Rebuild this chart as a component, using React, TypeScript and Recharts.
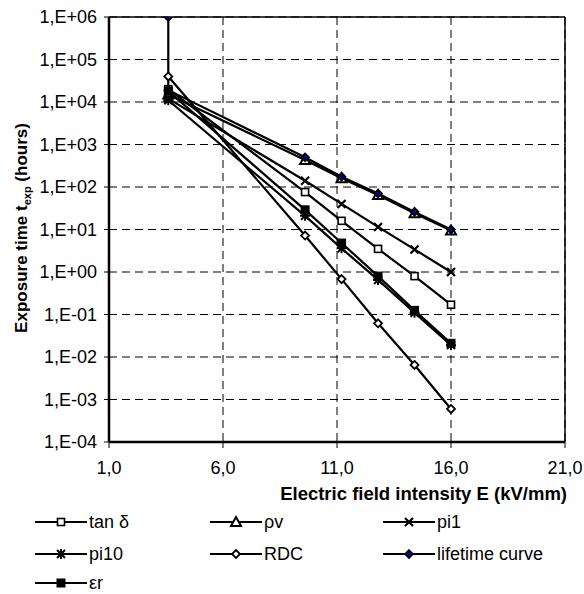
import React from "react";
import {
  LineChart,
  Line,
  XAxis,
  YAxis,
  CartesianGrid,
  Legend,
  ReferenceLine,
} from "recharts";

const FONT = "'Liberation Sans', Arial, sans-serif";

// field strengths (kV/mm) where samples were aged
const fieldE = [3.6, 9.6, 11.2, 12.8, 14.4, 16.0];
const tanDelta = [2.0e4, 76, 16, 3.5, 0.8, 0.17];
const rhoV = [1.5e4, 430, 160, 65, 24, 9.5];
const pi1 = [1.2e4, 140, 40, 11.5, 3.4, 1.0];
const pi10 = [1.1e4, 21, 3.6, 0.65, 0.11, 0.019];
const rdc = [4.0e4, 7.2, 0.68, 0.062, 0.0065, 0.0006];
const epsR = [1.8e4, 29, 4.8, 0.8, 0.125, 0.021];

// lifetime curve starts with a vertical drop at the first field value
const lifetimeE = [3.6, 3.6, 9.6, 11.2, 12.8, 14.4, 16.0];
const lifetime = [1e6, 1.9e4, 500, 175, 70, 26, 10];

const xTicks = [1, 6, 11, 16, 21];
const yTicks = [1e-4, 1e-3, 1e-2, 1e-1, 1, 1e1, 1e2, 1e3, 1e4, 1e5, 1e6];

const toPoints = (xs: number[], ys: number[]) =>
  xs.map((x, i) => ({ x, y: ys[i] }));

type Marker = "sqOpen" | "tri" | "cross" | "star" | "diamond" | "diamondBlue" | "sqFilled";

function drawMarker(kind: Marker, cx: number, cy: number, key?: any) {
  const s = 3.5;
  switch (kind) {
    case "sqOpen":
      return (
        <rect key={key} x={cx - s} y={cy - s} width={2 * s} height={2 * s}
          fill="#fff" stroke="#000" strokeWidth={1.6} />
      );
    case "sqFilled":
      return (
        <rect key={key} x={cx - 4} y={cy - 4} width={8} height={8} fill="#000" stroke="#000" />
      );
    case "tri":
      return (
        <path key={key} d={`M${cx},${cy - 5} L${cx + 5},${cy + 4} L${cx - 5},${cy + 4} Z`}
          fill="#fff" stroke="#000" strokeWidth={2} />
      );
    case "cross":
      return (
        <path key={key} d={`M${cx - 4},${cy - 4} L${cx + 4},${cy + 4} M${cx - 4},${cy + 4} L${cx + 4},${cy - 4}`}
          stroke="#000" strokeWidth={2.2} fill="none" />
      );
    case "star":
      return (
        <path key={key}
          d={`M${cx - 4},${cy - 4} L${cx + 4},${cy + 4} M${cx - 4},${cy + 4} L${cx + 4},${cy - 4} M${cx - 5},${cy} L${cx + 5},${cy} M${cx},${cy - 5} L${cx},${cy + 5}`}
          stroke="#000" strokeWidth={2} fill="none" />
      );
    case "diamond":
      return (
        <path key={key} d={`M${cx},${cy - 4} L${cx + 4},${cy} L${cx},${cy + 4} L${cx - 4},${cy} Z`}
          fill="#fff" stroke="#000" strokeWidth={1.8} />
      );
    case "diamondBlue":
      return (
        <path key={key} d={`M${cx},${cy - 4} L${cx + 4},${cy} L${cx},${cy + 4} L${cx - 4},${cy} Z`}
          fill="#000080" stroke="#000" strokeWidth={1.6} />
      );
  }
}

const series: { name: string; xs: number[]; ys: number[]; marker: Marker }[] = [
  { name: "tan δ", xs: fieldE, ys: tanDelta, marker: "sqOpen" },
  { name: "ρv", xs: fieldE, ys: rhoV, marker: "tri" },
  { name: "pi1", xs: fieldE, ys: pi1, marker: "cross" },
  { name: "pi10", xs: fieldE, ys: pi10, marker: "star" },
  { name: "RDC", xs: fieldE, ys: rdc, marker: "diamond" },
  { name: "lifetime curve", xs: lifetimeE, ys: lifetime, marker: "diamondBlue" },
  { name: "εr", xs: fieldE, ys: epsR, marker: "sqFilled" },
];

const fmtY = (v: number) => {
  const e = Math.round(Math.log10(v));
  const abs = Math.abs(e);
  return `1,E${e >= 0 ? "+" : "-"}${abs < 10 ? "0" + abs : abs}`;
};

const fmtX = (v: number) => v.toFixed(1).replace(".", ",");

// legend laid out like the excel original: 3 columns
function renderLegend() {
  const cols = [35, 210, 383];
  const rows = [17, 49, 78];
  return (
    <svg width={584} height={90} style={{ display: "block" }}>
      {series.map((s, i) => {
        const x = cols[i % 3];
        const y = rows[Math.floor(i / 3)];
        return (
          <g key={s.name}>
            <line x1={x} y1={y} x2={x + 52} y2={y} stroke="#000" strokeWidth={2.2} />
            {drawMarker(s.marker, x + 26, y)}
            <text x={x + 54} y={y} dy="0.35em" fontSize={18} fontFamily={FONT} fill="#000">
              {s.name}
            </text>
          </g>
        );
      })}
    </svg>
  );
}

export default function App() {
  return (
    <div style={{ position: "absolute", left: 0, top: 0, background: "#fff" }}>
      <LineChart
        width={584}
        height={594}
        margin={{ top: 17, right: 19, left: 0, bottom: 92 }}
      >
        <CartesianGrid stroke="#000" strokeDasharray="8 5" strokeWidth={1} />
        <XAxis
          dataKey="x"
          type="number"
          domain={[1, 21]}
          ticks={xTicks}
          tickFormatter={fmtX}
          allowDataOverflow
          height={60}
          tickSize={6}
          tickMargin={13}
          tick={{ fontSize: 18, fill: "#000", fontFamily: FONT }}
          axisLine={{ stroke: "#000", strokeWidth: 2.5 }}
          tickLine={{ stroke: "#000", strokeWidth: 1 }}
          label={(props: any) => {
            const vb = props.viewBox;
            return (
              <text x={vb.x + vb.width + 2} y={500} textAnchor="end"
                fontSize={18.5} fontWeight="bold" fontFamily={FONT} fill="#000">
                Electric field intensity E (kV/mm)
              </text>
            );
          }}
        />
        <YAxis
          dataKey="y"
          type="number"
          scale="log"
          domain={[1e-4, 1e6]}
          ticks={yTicks}
          tickFormatter={fmtY}
          allowDataOverflow
          width={109}
          tickSize={5}
          tickMargin={7}
          tick={{ fontSize: 18, fill: "#000", fontFamily: FONT }}
          axisLine={{ stroke: "#000", strokeWidth: 2.5 }}
          tickLine={{ stroke: "#000", strokeWidth: 1 }}
          label={() => (
            <text x={21} y={228} transform="rotate(-90, 21, 228)" textAnchor="middle"
              dominantBaseline="central" fontSize={17} fontWeight="bold" fontFamily={FONT} fill="#000">
              Exposure time t
              <tspan baselineShift="sub" fontSize={11}>exp</tspan>
              <tspan> (hours)</tspan>
            </text>
          )}
        />
        <ReferenceLine y={1e6} stroke="#000" strokeWidth={1.5} ifOverflow="visible" />
        <ReferenceLine x={21} stroke="#000" strokeWidth={1.5} ifOverflow="visible" />
        {series.map((s) => (
          <Line
            key={s.name}
            name={s.name}
            data={toPoints(s.xs, s.ys)}
            dataKey="y"
            stroke="#000"
            strokeWidth={2.2}
            type="linear"
            isAnimationActive={false}
            dot={(p: any) => drawMarker(s.marker, p.cx, p.cy, `${s.name}-${p.index}`)}
            activeDot={false}
          />
        ))}
        <Legend
          layout="vertical"
          align="center"
          verticalAlign="middle"
          content={renderLegend}
          wrapperStyle={{ left: 0, top: 505, width: 584 }}
        />
      </LineChart>
    </div>
  );
}
